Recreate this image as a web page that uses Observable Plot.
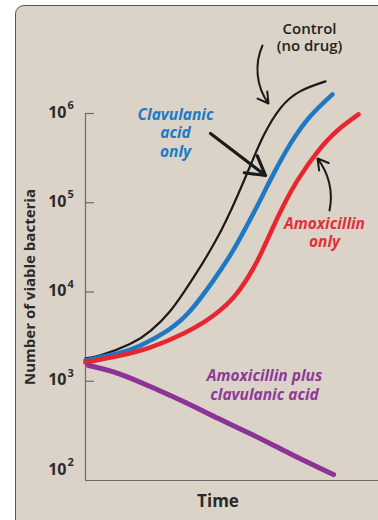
<!DOCTYPE html>
<html>
<head>
<meta charset="utf-8">
<script src="https://cdn.jsdelivr.net/npm/d3@7"></script>
<script src="https://cdn.jsdelivr.net/npm/@observablehq/plot@0.6"></script>
<style>
  html, body { margin: 0; padding: 0; background: #ffffff; }
  #wrap { position: relative; width: 378px; height: 520px; overflow: hidden; }
  #panel { position: absolute; left: 15px; top: 5px; width: 400px; height: 540px;
           background: #dcd3c8; border: 1.5px solid #555; border-radius: 9px; box-sizing: border-box; }
  #chart { position: absolute; left: 0; top: 0; }
</style>
</head>
<body>
<div id="wrap"><div id="panel"></div><div id="chart"></div></div>
<script>
// ---- data (time in arbitrary units, counts of viable bacteria) ----
const timeControl  = [0, 15, 45, 65, 85, 105, 118, 130, 141, 152, 165, 178, 195, 215, 240];
const countControl = [1800, 1950, 2630, 3670, 6170, 12900, 21900, 37200, 64600, 120000, 263000, 562000, 1150000, 1780000, 2290000];

const timeClav  = [0, 32, 55, 82, 105, 128, 142, 152, 165, 177, 187, 205, 225, 247];
const countClav = [1710, 2050, 2520, 3700, 6200, 13500, 23100, 35600, 65900, 120000, 200000, 459000, 938000, 1640000];

const timeAmox  = [0, 35, 65, 98, 118, 132, 148, 163, 175, 187, 198, 212, 232, 252, 273];
const countAmox = [1620, 1940, 2390, 3430, 4570, 5900, 8680, 14900, 26300, 51500, 93300, 178000, 372000, 646000, 977000];

const timeCombo  = [3, 33, 67, 100, 133, 167, 200, 233, 248];
const countCombo = [1500, 1220, 851, 578, 382, 251, 164, 108, 90];

const yTickValues = [1e2, 1e3, 1e4, 1e5, 1e6];
const yTickMarks  = [1e3, 1e4, 1e5, 1e6];

const seriesNames = ["Control (no drug)", "Clavulanic acid only", "Amoxicillin only", "Amoxicillin plus clavulanic acid"];
const labelText  = ["Control\n(no drug)", "Clavulanic\nacid\nonly", "Amoxicillin\nonly", "Amoxicillin plus\nclavulanic acid"];
const labelTime  = [224, 90, 239, 179];
const labelCount = [7.2e6, 6.1e5, 46400, 931];

// annotation arrows: [time1, count1, time2, count2]
const arrowControl = [177, 5.78e6, 183, 1.295e6];
const arrowClav    = [125, 597000, 180, 202000];
const arrowAmox    = [244, 81800, 232, 313000];

// ---- build tables ----
const toRows = (ts, cs) => ts.map((t, i) => ({t, n: cs[i]}));
const control = toRows(timeControl, countControl);
const clav = toRows(timeClav, countClav);
const amox = toRows(timeAmox, countAmox);
const combo = toRows(timeCombo, countCombo);
const labels = labelText.map((s, i) => ({s, t: labelTime[i], n: labelCount[i]}));
const arrowRow = a => [{x1: a[0], y1: a[1], x2: a[2], y2: a[3]}];

const yMin = 77.27;
const font = "Open Sans";
const ink = "#2a2a2a";

const chart = Plot.plot({
  width: 378,
  height: 520,
  marginLeft: 85,
  marginRight: 0,
  marginTop: 113,
  marginBottom: 40,
  style: {background: "transparent", fontFamily: font, overflow: "visible"},
  x: {domain: [0, 293], axis: null},
  y: {type: "log", domain: [yMin, 1e6], axis: null},
  marks: [
    // axes
    Plot.ruleX([0], {y1: yMin, y2: 1e6, stroke: "#6b6b6b", strokeWidth: 1.2}),
    Plot.ruleY([yMin], {x1: 0, x2: 293, stroke: "#6b6b6b", strokeWidth: 1.2}),
    Plot.ruleY(yTickMarks, {x1: 0, x2: 9, stroke: "#6b6b6b", strokeWidth: 1.2}),
    Plot.text(yTickValues, {y: d => d, frameAnchor: "left", text: () => "10", textAnchor: "end", lineAnchor: "middle",
      dx: -19, dy: -1, fontSize: 16, fontWeight: 700, fill: ink}),
    Plot.text(yTickValues, {y: d => d, frameAnchor: "left", text: d => String(Math.round(Math.log10(d))), textAnchor: "start", lineAnchor: "middle",
      dx: -18, dy: -8, fontSize: 11, fontWeight: 700, fill: ink}),
    Plot.text(["Number of viable bacteria"], {frameAnchor: "left", textAnchor: "middle", lineAnchor: "middle",
      dx: -55, dy: -10, rotate: -90, fontSize: 15, fontWeight: 700, fill: ink}),
    Plot.text(["Time"], {frameAnchor: "bottom", textAnchor: "middle", lineAnchor: "middle",
      dx: -14, dy: 21, fontSize: 17, fontWeight: 700, fill: ink}),

    // curves
    Plot.line(control, {x: "t", y: "n", stroke: "#1a1a1a", strokeWidth: 2.2, curve: "natural", title: () => seriesNames[0]}),
    Plot.line(clav, {x: "t", y: "n", stroke: "#1f78c4", strokeWidth: 4.5, curve: "natural", strokeLinecap: "round", title: () => seriesNames[1]}),
    Plot.line(amox, {x: "t", y: "n", stroke: "#e8262f", strokeWidth: 4.5, curve: "natural", strokeLinecap: "round", title: () => seriesNames[2]}),
    Plot.line(combo, {x: "t", y: "n", stroke: "#8b3396", strokeWidth: 5, curve: "natural", title: () => seriesNames[3]}),

    // annotation arrows
    Plot.arrow(arrowRow(arrowControl), {x1: "x1", y1: "y1", x2: "x2", y2: "y2", bend: -30, stroke: "#1a1a1a", strokeWidth: 2, headLength: 9}),
    Plot.arrow(arrowRow(arrowClav), {x1: "x1", y1: "y1", x2: "x2", y2: "y2", stroke: "#1a1a1a", strokeWidth: 3.2, headLength: 10}),
    Plot.arrow(arrowRow(arrowAmox), {x1: "x1", y1: "y1", x2: "x2", y2: "y2", bend: -25, stroke: "#1a1a1a", strokeWidth: 2, headLength: 9}),

    // annotation labels
    Plot.text(labels.slice(0, 1), {x: "t", y: "n", text: "s", fontSize: 15, fontWeight: 600, fill: "#222", lineHeight: 1.15}),
    Plot.text(labels.slice(1, 2), {x: "t", y: "n", text: "s", fontSize: 15.5, fontWeight: 700, fontStyle: "italic", fill: "#1d7bc6", lineHeight: 1.17}),
    Plot.text(labels.slice(2, 3), {x: "t", y: "n", text: "s", fontSize: 15.5, fontWeight: 700, fontStyle: "italic", fill: "#e0303a", lineHeight: 1.17}),
    Plot.text(labels.slice(3, 4), {x: "t", y: "n", text: "s", fontSize: 15.5, fontWeight: 700, fontStyle: "italic", fill: "#8d3a97", lineHeight: 1.22})
  ]
});
document.getElementById("chart").appendChild(chart);
</script>
</body>
</html>
